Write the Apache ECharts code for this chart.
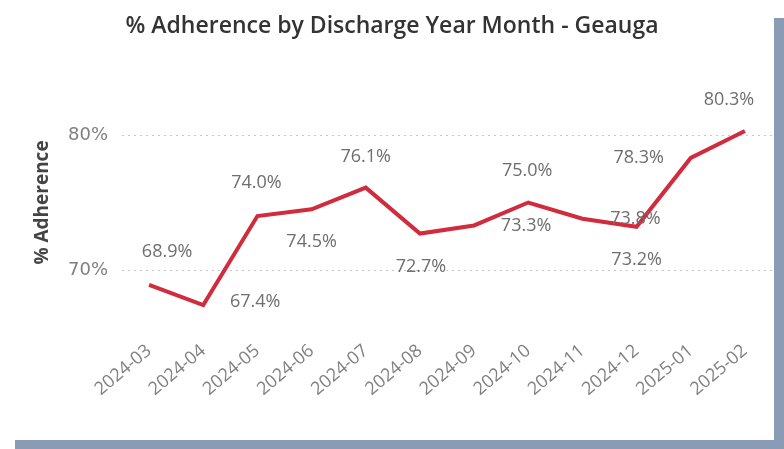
<!DOCTYPE html>
<html>
<head>
<meta charset="utf-8">
<script src="https://cdn.jsdelivr.net/npm/echarts@6/dist/echarts.min.js"></script>
<style>
html,body{margin:0;padding:0;background:#fff;}
#chart{width:784px;height:449px;}
</style>
</head>
<body>
<div id="chart"></div>
<script>
// ---- data ----
const categories = ['2024-03','2024-04','2024-05','2024-06','2024-07','2024-08','2024-09','2024-10','2024-11','2024-12','2025-01','2025-02'];
const adherence = [68.9, 67.4, 74.0, 74.5, 76.1, 72.7, 73.3, 75.0, 73.8, 73.2, 78.3, 80.3];
const yTickLabels = [70, 80];
const chartTitle = '% Adherence by Discharge Year Month - Geauga';
const yAxisTitle = '% Adherence';

// ---- label placement (style only) ----
const labelOffsets = [[18,-33],[52,-3],[-1,-33],[0,33],[0,-31],[1,33],[52,0],[-1,-32],[53,0],[0,33],[-52,0],[-16,-31]];

const chart = echarts.init(document.getElementById('chart'), null, {renderer:'canvas'});
const labelFont = 'Open Sans';
const option = {
  backgroundColor: '#ffffff',
  animation: false,
  title: {
    text: chartTitle,
    left: 'center',
    top: 10,
    textStyle: {fontFamily: 'Open Sans', fontWeight: 600, fontSize: 23, color: '#333333'}
  },
  grid: {left: 122, right: 12, top: 67.5, bottom: 111.5},
  xAxis: {
    type: 'category',
    data: categories,
    boundaryGap: true,
    axisLine: {show: false},
    axisTick: {show: false},
    axisLabel: {rotate: 40, margin: 11, fontFamily: labelFont, fontSize: 18, color: '#808080'}
  },
  yAxis: {
    type: 'value',
    min: 65, max: 85, interval: 5,
    name: yAxisTitle,
    nameLocation: 'middle',
    nameGap: 70,
    nameTextStyle: {fontFamily: labelFont, fontWeight: 'bold', fontSize: 19, color: '#444444'},
    axisLine: {show: false},
    axisTick: {show: false},
    axisLabel: {
      margin: 14, fontFamily: 'DejaVu Sans', fontSize: 18, color: '#808080',
      formatter: v => yTickLabels.indexOf(v) >= 0 ? v + '%' : ''
    },
    splitLine: {
      show: true,
      lineStyle: {type: [2, 4], width: 1, color: ['rgba(0,0,0,0)', '#c8c8c8', 'rgba(0,0,0,0)', '#c8c8c8', 'rgba(0,0,0,0)']}
    }
  },
  series: [{
    type: 'line',
    data: adherence.map((v, i) => ({
      value: v,
      label: {offset: labelOffsets[i]}
    })),
    symbol: 'circle',
    symbolSize: 1,
    showSymbol: true,
    lineStyle: {color: '#d12c3d', width: 4, join: 'miter'},
    itemStyle: {color: 'rgba(0,0,0,0)', borderWidth: 0},
    label: {
      show: true,
      position: 'inside',
      align: 'center',
      verticalAlign: 'middle',
      fontFamily: labelFont,
      fontSize: 18,
      color: '#6e6e6e',
      formatter: p => p.value.toFixed(1) + '%'
    },
    z: 3
  }],
  graphic: [
    {type: 'rect', shape: {x: 774, y: 18, width: 10, height: 431}, style: {fill: '#8a9bb6'}},
    {type: 'rect', shape: {x: 15, y: 440, width: 769, height: 9}, style: {fill: '#8a9bb6'}}
  ]
};
chart.setOption(option);
</script>
</body>
</html>
